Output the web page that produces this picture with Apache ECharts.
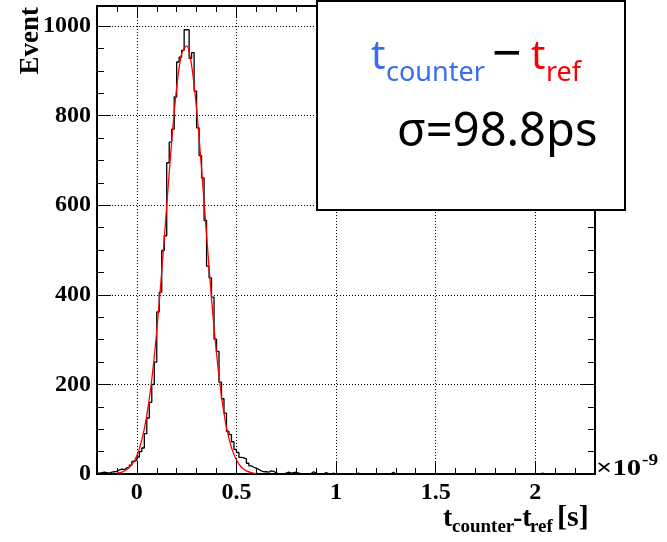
<!DOCTYPE html>
<html>
<head>
<meta charset="utf-8">
<script src="https://cdn.jsdelivr.net/npm/echarts@6/dist/echarts.min.js"></script>
<style>
html, body { margin: 0; padding: 0; background: #fff; }
#chart { width: 667px; height: 542px; }
</style>
</head>
<body>
<div id="chart"></div>
<script>
// histogram t_counter - t_ref, 200 bins from -0.2 to 2.3 (x1e-9 s)
const binStart = -0.2
const binWidth = 0.0125
const counts = [
    2, 3, 4, 3, 2, 4, 5, 6, 9, 11, 10, 14, 15, 20, 28, 31,
    38, 50, 58, 90, 125, 160, 200, 250, 362, 406, 499, 532, 695, 741, 770, 842,
    920, 931, 946, 992, 992, 928, 941, 855, 773, 711, 661, 566, 464, 438, 395, 301,
    274, 205, 168, 136, 95, 88, 72, 55, 48, 37, 36, 34, 24, 18, 15, 13,
    10, 7, 5, 5, 4, 7, 6, 2, 1, 1, 1, 2, 4, 2, 3, 4,
    2, 1, 0, 1, 0, 1, 5, 2, 0, 1, 0, 3, 1, 0, 2, 0,
    0, 0, 0, 0, 0, 0, 0, 0, 2, 0, 0, 0, 0, 0, 0, 0,
    0, 0, 0, 0, 0, 0, 4, 0, 0, 0, 0, 0, 0, 0, 0, 0,
    0, 0, 0, 0, 0, 0, 0, 0, 0, 0, 0, 0, 0, 0, 0, 0,
    0, 0, 0, 0, 0, 0, 1, 0, 0, 0, 0, 0, 0, 0, 0, 0,
    0, 0, 0, 0, 0, 0, 0, 0, 0, 0, 0, 0, 0, 0, 0, 0,
    0, 0, 2, 0, 0, 0, 0, 0, 0, 0, 0, 0, 0, 0, 0, 0,
    0, 0, 0, 0, 0, 0, 0, 0
]

// red fit curve
const fitX = [-0.1, -0.075, -0.05, -0.025, 0, 0.025, 0.05, 0.075, 0.1, 0.125, 0.15, 0.175, 0.2, 0.225, 0.25,
    0.275, 0.3, 0.325, 0.35, 0.375, 0.4, 0.425, 0.45, 0.475, 0.5, 0.525, 0.55, 0.575, 0.6]
const fitY = [2, 4, 10, 21, 41, 76, 131, 211, 320, 452, 599, 743, 863, 939, 956,
    912, 815, 681, 534, 391, 269, 173, 104, 59, 31, 15, 7, 3, 1]

const xMajor = [0, 0.5, 1, 1.5, 2]
const xMinor = [-0.1, 0.1, 0.2, 0.3, 0.4, 0.6, 0.7, 0.8, 0.9, 1.1, 1.2, 1.3, 1.4, 1.6, 1.7, 1.8, 1.9, 2.1, 2.2]
const yMajor = [0, 200, 400, 600, 800, 1000]
const yMinor = [50, 100, 150, 250, 300, 350, 450, 500, 550, 650, 700, 750, 850, 900, 950]

const serif = '"Liberation Serif", "DejaVu Serif", serif'
const sans = '"Noto Sans", "Open Sans", sans-serif'
const blue = '#3a6df0'
const red = '#ff0000'

// step line: one point per bin left edge plus the closing edge
let hist = counts.map((c, i) => [binStart + i * binWidth, c])
hist.push([binStart + counts.length * binWidth, counts[counts.length - 1]])
let fit = fitX.map((x, i) => [x, fitY[i]])

function xAxisDef(pos, ticks, len, labels) {
    return {
        type: 'value', position: pos, min: -0.2, max: 2.3,
        axisLine: {show: false, onZero: false},
        axisTick: {show: true, inside: true, length: len, customValues: ticks, lineStyle: {color: '#000', width: 1}},
        axisLabel: labels ? {
            show: true, customValues: xMajor, margin: 7, color: '#000',
            fontFamily: serif, fontWeight: 'bold', fontSize: 24,
            formatter: v => String(v)
        } : {show: false},
        splitLine: {show: false}
    }
}

function yAxisDef(pos, ticks, len, labels) {
    return {
        type: 'value', position: pos, min: 0, max: 1045, interval: 200,
        axisLine: {show: false, onZero: false},
        axisTick: {show: true, inside: true, length: len, customValues: ticks, lineStyle: {color: '#000', width: 1}},
        axisLabel: labels ? {
            show: true, customValues: yMajor, margin: 6, color: '#000',
            fontFamily: serif, fontWeight: 'bold', fontSize: 24,
            formatter: v => String(v)
        } : {show: false},
        splitLine: labels ? {show: true, lineStyle: {color: '#000', width: 1, type: [1, 2]}} : {show: false}
    }
}

// small helper for the free texts: y is the baseline, c = em middle above baseline
function txt(str, x, y, size, family, color, bold, c, sx) {
    return {
        type: 'text', z: 101, x: x, y: y - c * size, scaleX: sx || 1,
        style: {
            text: str, fontFamily: family, fontSize: size, fontWeight: bold ? 'bold' : 'normal',
            fill: color, align: 'left', verticalAlign: 'middle'
        }
    }
}
const cSans = 0.32
const cSerif = 0.29

let chart = echarts.init(document.getElementById('chart'), null, {renderer: 'canvas'})
let option = {
    animation: false,
    backgroundColor: '#fff',
    grid: {
        left: 97, right: 72, top: 6, bottom: 68,
        show: true, borderColor: '#000', borderWidth: 2,
        outerBoundsMode: 'none'
    },
    xAxis: [
        xAxisDef('bottom', xMinor, 6, true),
        xAxisDef('bottom', xMajor, 12, false),
        xAxisDef('top', xMinor, 6, false),
        xAxisDef('top', xMajor, 12, false)
    ],
    yAxis: [
        yAxisDef('left', yMajor, 14, true),
        yAxisDef('left', yMinor, 7, false),
        yAxisDef('right', yMajor, 14, false),
        yAxisDef('right', yMinor, 7, false)
    ],
    series: [
        {
            name: 'hist', type: 'line', step: 'end', data: hist,
            showSymbol: false, symbol: 'none',
            lineStyle: {color: '#000', width: 1.3},
            markLine: {
                silent: true, symbol: 'none', label: {show: false},
                lineStyle: {color: '#000', width: 1, type: [1, 2]},
                data: xMajor.map(v => ({xAxis: v}))
            }
        },
        {
            name: 'fit', type: 'line', data: fit, smooth: 0.3,
            showSymbol: false, symbol: 'none',
            lineStyle: {color: red, width: 1.3}
        }
    ],
    graphic: [
        // legend box
        {
            type: 'rect', z: 100,
            shape: {x: 317, y: 1, width: 308, height: 209},
            style: {fill: '#fff', stroke: '#000', lineWidth: 2}
        },
        txt('t', 371, 70, 40, sans, blue, false, cSans),
        txt('counter', 386, 82, 27, sans, blue, false, cSans),
        txt('\u2212', 492, 73, 52, sans, '#000', false, cSans),
        txt('t', 531, 70, 40, sans, red, false, cSans),
        txt('ref', 546, 82, 27, sans, red, false, cSans),
        txt('\u03c3=98.8ps', 397, 148, 47, sans, '#000', false, cSans),
        // exponent of the x axis
        txt('\u00d710', 596, 476, 23, serif, '#000', true, cSerif, 1.25),
        txt('-9', 642, 465, 16, serif, '#000', true, cSerif, 1.2),
        // x axis title
        txt('t', 443, 527, 28, serif, '#000', true, cSerif),
        txt('counter', 452, 533, 19, serif, '#000', true, cSerif),
        txt('-t', 513, 527, 28, serif, '#000', true, cSerif),
        txt('ref', 530, 533, 19, serif, '#000', true, cSerif),
        txt('[s]', 557, 527, 30, serif, '#000', true, cSerif),
        // y axis title
        {
            type: 'text', z: 101, x: 31, y: 7, rotation: Math.PI / 2,
            style: {text: 'Event', fontFamily: serif, fontWeight: 'bold', fontSize: 27, fill: '#000', align: 'right', verticalAlign: 'middle'}
        }
    ]
}
chart.setOption(option)
</script>
</body>
</html>
